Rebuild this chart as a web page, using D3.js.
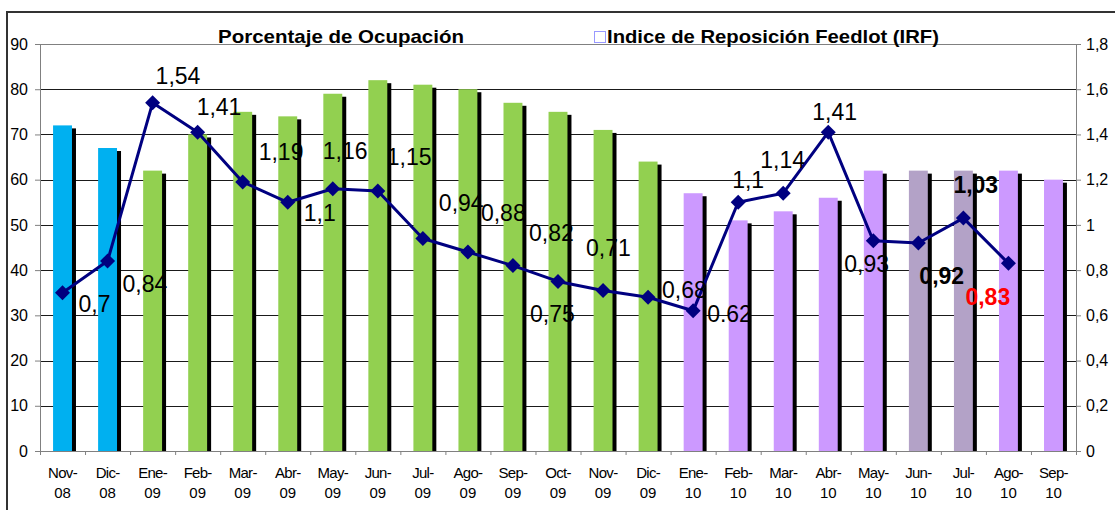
<!DOCTYPE html>
<html>
<head>
<meta charset="utf-8">
<script src="https://cdn.jsdelivr.net/npm/d3@7"></script>
<style>
  html, body { margin: 0; padding: 0; background: #fff; }
  svg { display: block; font-family: Arial, "Liberation Sans", sans-serif; }
</style>
</head>
<body>
<svg id="chart" width="1115" height="510"></svg>
<script>
// data
const months = ['Nov', 'Dic', 'Ene', 'Feb', 'Mar', 'Abr', 'May', 'Jun', 'Jul', 'Ago', 'Sep', 'Oct',
  'Nov', 'Dic', 'Ene', 'Feb', 'Mar', 'Abr', 'May', 'Jun', 'Jul', 'Ago', 'Sep'];
const years = ['08', '08', '09', '09', '09', '09', '09', '09', '09', '09', '09', '09',
  '09', '09', '10', '10', '10', '10', '10', '10', '10', '10', '10'];
const ocupacion = [72, 67, 62, 70, 75, 74, 79, 82, 81, 80, 77, 75, 71, 64, 57, 51, 53, 56, 62, 62, 62, 62, 60];
const irf = [0.7, 0.84, 1.54, 1.41, 1.19, 1.1, 1.16, 1.15, 0.94, 0.88, 0.82, 0.75, 0.71, 0.68, 0.62,
  1.1, 1.14, 1.41, 0.93, 0.92, 1.03, 0.83];
const irfLabels = ['0,7', '0,84', '1,54', '1,41', '1,19', '1,1', '1,16', '1,15', '0,94', '0,88', '0,82',
  '0,75', '0,71', '0,68', '0.62', '1,1', '1,14', '1,41', '0,93', '0,92', '1,03', '0,83'];
const leftTicks = [0, 10, 20, 30, 40, 50, 60, 70, 80, 90];
const rightTicks = [0, 0.2, 0.4, 0.6, 0.8, 1, 1.2, 1.4, 1.6, 1.8];
const rightTickLabels = ['0', '0,2', '0,4', '0,6', '0,8', '1', '1,2', '1,4', '1,6', '1,8'];

// label placement relative to each point (as in the original, labels were dragged around)
const labelOffsets = [[16, 19], [15, 31], [3, -19], [-1, -17], [16, -22], [16, 19], [-10, -30], [9, -26],
  [16, -27], [13, -31], [16, -25], [-28, 41], [-17, -34], [14, 1], [14, 11], [-6, -14], [-23, -25],
  [-16, -12], [-29, 31], [1, 41], [-10, -25], [-43, 42]];
const labelStyle = i => i === 21 ? { fill: '#ff0000', weight: 'bold' }
  : (i === 19 || i === 20) ? { fill: '#000', weight: 'bold' } : { fill: '#000', weight: 'normal' };

const barColor = i => i < 2 ? '#00b0f0' : i < 14 ? '#92d050' : (i === 19 || i === 20) ? '#b3a2c7' : '#cc99ff';

const svg = d3.select('#chart');
const plotL = 40, plotR = 1076, plotT = 44, plotB = 451;

const x = d3.scaleBand().domain(d3.range(months.length)).range([plotL, plotR])
  .paddingInner(0.58).paddingOuter(0.29);
const xEdge = d3.scaleLinear().domain([0, months.length]).range([plotL, plotR]);
const yL = d3.scaleLinear().domain([0, 90]).range([plotB, plotT]);
const yR = d3.scaleLinear().domain([0, 1.8]).range([plotB, plotT]);
const bw = x.bandwidth();
const cx = i => x(i) + bw / 2;

// outer chart frame (runs off the right and bottom edge)
svg.append('rect').attr('x', 7).attr('y', 12).attr('width', 1200).attr('height', 600)
  .attr('fill', 'none').attr('stroke', '#333').attr('stroke-width', 2);

// gridlines
svg.append('g').selectAll('line').data(leftTicks.filter(d => d > 0 && d < 90)).join('line')
  .attr('x1', plotL).attr('x2', plotR)
  .attr('y1', d => Math.round(yL(d)) + 0.5).attr('y2', d => Math.round(yL(d)) + 0.5)
  .attr('stroke', '#1a1a1a').attr('stroke-width', 1);
svg.append('line').attr('x1', plotL).attr('x2', plotR).attr('y1', plotT + 0.5).attr('y2', plotT + 0.5)
  .attr('stroke', '#808080');

// bars with their black drop shadow
const bars = svg.append('g');
bars.selectAll('rect.shadow').data(ocupacion).join('rect').attr('class', 'shadow')
  .attr('x', (d, i) => x(i) + 4).attr('y', d => yL(d) + 3)
  .attr('width', bw).attr('height', d => plotB - yL(d) - 3)
  .attr('fill', '#000');
bars.selectAll('rect.bar').data(ocupacion).join('rect').attr('class', 'bar')
  .attr('x', (d, i) => x(i)).attr('y', d => yL(d))
  .attr('width', bw).attr('height', d => plotB - yL(d))
  .attr('fill', (d, i) => barColor(i));

// axes
const axisStyle = g => {
  g.selectAll('path, line').attr('stroke', '#808080');
  g.selectAll('text').attr('fill', '#000').attr('font-size', 16).attr('font-family', 'Arial, "Liberation Sans", sans-serif');
};
svg.append('g').attr('transform', `translate(${plotL},0)`)
  .call(d3.axisLeft(yL).tickValues(leftTicks).tickSize(5).tickSizeOuter(0).tickPadding(7))
  .call(axisStyle);
svg.append('g').attr('transform', `translate(${plotR},0)`)
  .call(d3.axisRight(yR).tickValues(rightTicks).tickFormat((d, i) => rightTickLabels[i])
    .tickSize(5).tickSizeOuter(0).tickPadding(5))
  .call(axisStyle);
svg.append('g').attr('transform', `translate(0,${plotB})`)
  .call(d3.axisBottom(xEdge).tickValues(d3.range(months.length + 1)).tickFormat('').tickSize(4).tickSizeOuter(0))
  .call(axisStyle);

// category labels, two lines
const cat = svg.append('g').selectAll('text').data(months).join('text')
  .attr('text-anchor', 'middle').attr('font-size', 15).attr('fill', '#000');
cat.append('tspan').attr('x', (d, i) => cx(i)).attr('y', 478).attr('letter-spacing', -0.7).text(d => d + '-');
cat.append('tspan').attr('x', (d, i) => cx(i)).attr('y', 498).text((d, i) => years[i]);

// IRF line
const line = d3.line().x((d, i) => cx(i)).y(d => yR(d));
svg.append('path').datum(irf).attr('d', line)
  .attr('fill', 'none').attr('stroke', '#000080').attr('stroke-width', 3).attr('stroke-linejoin', 'round');
svg.append('g').selectAll('path').data(irf).join('path')
  .attr('transform', (d, i) => `translate(${cx(i)},${yR(d)})`)
  .attr('d', 'M0,-7.5L7.5,0L0,7.5L-7.5,0Z')
  .attr('fill', '#000080');

// data labels
svg.append('g').selectAll('text').data(irf).join('text')
  .attr('x', (d, i) => cx(i) + labelOffsets[i][0])
  .attr('y', (d, i) => yR(d) + labelOffsets[i][1])
  .attr('font-size', 23)
  .attr('font-weight', (d, i) => labelStyle(i).weight)
  .attr('fill', (d, i) => labelStyle(i).fill)
  .text((d, i) => irfLabels[i]);

// title and legend
svg.append('text').attr('x', 218).attr('y', 42.5).attr('font-size', 19).attr('font-weight', 'bold')
  .attr('textLength', 246).attr('lengthAdjust', 'spacingAndGlyphs')
  .text('Porcentaje de Ocupación');
svg.append('rect').attr('x', 594.5).attr('y', 31.5).attr('width', 11).attr('height', 11)
  .attr('fill', '#fff').attr('stroke', '#9999ff');
svg.append('text').attr('x', 607).attr('y', 42.5).attr('font-size', 19).attr('font-weight', 'bold')
  .attr('textLength', 332).attr('lengthAdjust', 'spacingAndGlyphs')
  .text('Indice de Reposición Feedlot (IRF)');
</script>
</body>
</html>
